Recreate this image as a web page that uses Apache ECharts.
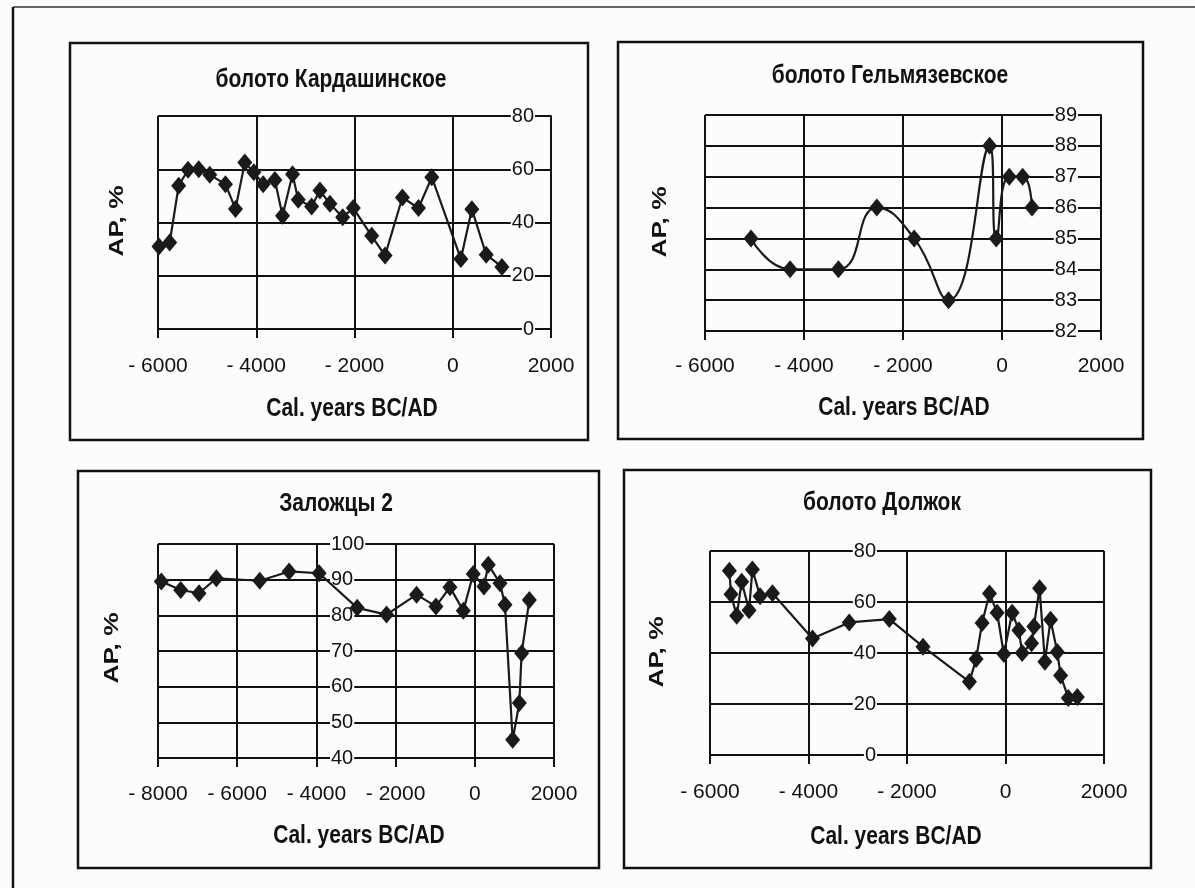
<!DOCTYPE html>
<html>
<head>
<meta charset="utf-8">
<script src="https://cdn.jsdelivr.net/npm/echarts@6/dist/echarts.min.js"></script>
<style>
html,body{margin:0;padding:0;background:#fcfcfc;}
#chart{width:1195px;height:888px;}
</style>
</head>
<body>
<div id="chart"></div>
<script>
// ---- Data ----
const titles = ['болото Кардашинское', 'болото Гельмязевское', 'Заложцы 2', 'болото Должок'];
const yName = 'AP, %';
const xName = 'Cal. years BC/AD';

const kardX = [-5980,-5762,-5579,-5388,-5171,-4946,-4627,-4423,-4233,-4049,-3859,-3621,-3465,-3261,-3145,-2873,-2704,-2500,-2241,-2024,-1650,-1378,-1025,-698,-426,165,389,681,1001];
const kardY = [31,32.5,53.8,59.8,60,57.9,54.4,45.1,62.5,58.9,54.4,56,42.5,58.1,48.5,46,52,47,42,45.4,35,27.6,49.4,45.4,57,26.3,45,27.9,23.3];

const gelX = [-5070,-4281,-3304,-2529,-1774,-1080,-251,-116,147,417,606];
const gelY = [85,84,84,86,85,83,88,85,87,87,86];

const zalX = [-7916,-7427,-6964,-6526,-5430,-4689,-3931,-2970,-2229,-1471,-982,-628,-291,-39,231,341,636,762,956,1124,1183,1377];
const zalY = [89.5,87.1,86.2,90.4,89.7,92.3,91.8,82.1,80.2,85.8,82.5,87.9,81.3,91.6,88.1,94.2,89,83,45.1,55.4,69.4,84.3];

const dolX = [-5607,-5573,-5458,-5356,-5207,-5139,-4983,-4732,-3919,-3173,-2359,-1675,-732,-597,-475,-325,-170,-34,136,271,339,529,576,692,800,915,1051,1119,1275,1458];
const dolY = [72.3,63,54.6,67.9,56.8,72.7,62.3,63.4,45.7,52,53.3,42.5,28.7,37.6,51.8,63.3,55.8,39.6,55.8,48.9,40,43.8,50.4,65.4,36.6,53,40.4,31.2,22.4,22.7];

const xRanges = [[-6000, 2000], [-6000, 2000], [-8000, 2000], [-6000, 2000]];
const yRanges = [[0, 80, 20], [82, 89, 1], [40, 100, 10], [0, 80, 20]];

// ---- Build ----
const FONT = "'Liberation Sans', Arial, sans-serif";
const NARROW = "'Noto Sans Condensed', 'Liberation Sans Narrow', 'Liberation Sans', sans-serif";
const INK = '#111111';
const BG = '#fcfcfc';
const pair = (xs, ys) => xs.map((x, i) => [x, ys[i]]);
const fmtX = v => v < 0 ? '- ' + Math.abs(v) : String(v);

const grids = [
  {left: 158, top: 116, width: 393, height: 213},
  {left: 705, top: 115, width: 396, height: 216},
  {left: 158, top: 544, width: 396, height: 214},
  {left: 710, top: 551, width: 394, height: 204}
];
const xMargins = [27, 25, 26, 27];

const xAxis = xRanges.map((r, i) => ({
  type: 'value', gridIndex: i, min: r[0], max: r[1], interval: 2000,
  axisLine: {show: true, onZero: false, lineStyle: {color: INK, width: 2}},
  axisTick: {show: true, length: 9, lineStyle: {color: INK, width: 2}},
  axisLabel: {formatter: fmtX, color: INK, fontFamily: NARROW, fontSize: 21, margin: xMargins[i]},
  splitLine: {show: true, lineStyle: {color: INK, width: 2}}
}));

const yPos = [
  {position: 'right', offset: 0, inside: true, margin: 16, line: true},
  {position: 'right', offset: 0, inside: true, margin: 23, line: true},
  {position: 'left', offset: -159, inside: true, margin: 13, line: false},
  {position: 'left', offset: -195, inside: false, margin: 28, line: false}
];

const yAxis = yRanges.map((r, i) => ({
  type: 'value', gridIndex: i, min: r[0], max: r[1], interval: r[2],
  position: yPos[i].position, offset: yPos[i].offset,
  axisLine: {show: yPos[i].line, onZero: false, lineStyle: {color: INK, width: 2}},
  axisTick: {show: false},
  axisLabel: {inside: yPos[i].inside, margin: yPos[i].margin, color: INK, fontFamily: NARROW, fontSize: 20,
    backgroundColor: BG, padding: [0, 1]},
  splitLine: {show: true, lineStyle: {color: INK, width: 2}}
}));

const seriesData = [pair(kardX, kardY), pair(gelX, gelY), pair(zalX, zalY), pair(dolX, dolY)];
const series = seriesData.map((d, i) => ({
  type: 'line', xAxisIndex: i, yAxisIndex: i, data: d,
  smooth: i === 1 ? 0.5 : false,
  symbol: 'diamond', symbolSize: [15, 18],
  itemStyle: {color: '#1a1a1a'},
  lineStyle: {color: '#1a1a1a', width: 2.2},
  animation: false, z: 5
}));

const boxes = [
  [70, 43, 518, 397],
  [618, 42, 525, 397],
  [78, 471, 521, 397],
  [624, 470, 527, 398]
];
const titlePos = [[331, 80], [890, 76], [336, 504], [882, 503]];
const yNamePos = [[117, 221], [660, 222], [112, 648], [657, 652]];
const xNamePos = [[352, 409], [904, 408], [359, 836], [896, 837]];
const SY = 1.22; // vertical stretch of the scanned lettering

const graphic = [];
graphic.push({type: 'line', shape: {x1: 13, y1: 7, x2: 1195, y2: 7}, style: {stroke: '#333', lineWidth: 1.5}, z: 1});
graphic.push({type: 'line', shape: {x1: 13, y1: 7, x2: 13, y2: 888}, style: {stroke: INK, lineWidth: 2.5}, z: 1});
boxes.forEach(b => graphic.push({type: 'rect', shape: {x: b[0], y: b[1], width: b[2], height: b[3]},
  style: {fill: null, stroke: INK, lineWidth: 2.5}, z: 1}));
titles.forEach((t, i) => graphic.push({type: 'text', x: titlePos[i][0], y: titlePos[i][1], scaleY: SY,
  style: {text: t, fill: INK, font: 'bold 21px ' + FONT, align: 'center', verticalAlign: 'middle'}, z: 10}));
yNamePos.forEach(p => graphic.push({type: 'text', x: p[0], y: p[1], rotation: Math.PI / 2, scaleX: 1.25,
  style: {text: yName, fill: INK, font: 'bold 21px ' + FONT, align: 'center', verticalAlign: 'middle'}, z: 10}));
xNamePos.forEach(p => graphic.push({type: 'text', x: p[0], y: p[1], scaleY: SY,
  style: {text: xName, fill: INK, font: 'bold 21px ' + FONT, align: 'center', verticalAlign: 'middle'}, z: 10}));

const chart = echarts.init(document.getElementById('chart'), null, {renderer: 'canvas'});
chart.setOption({
  backgroundColor: BG,
  animation: false,
  grid: grids,
  xAxis: xAxis,
  yAxis: yAxis,
  series: series,
  graphic: graphic
});
</script>
</body>
</html>
